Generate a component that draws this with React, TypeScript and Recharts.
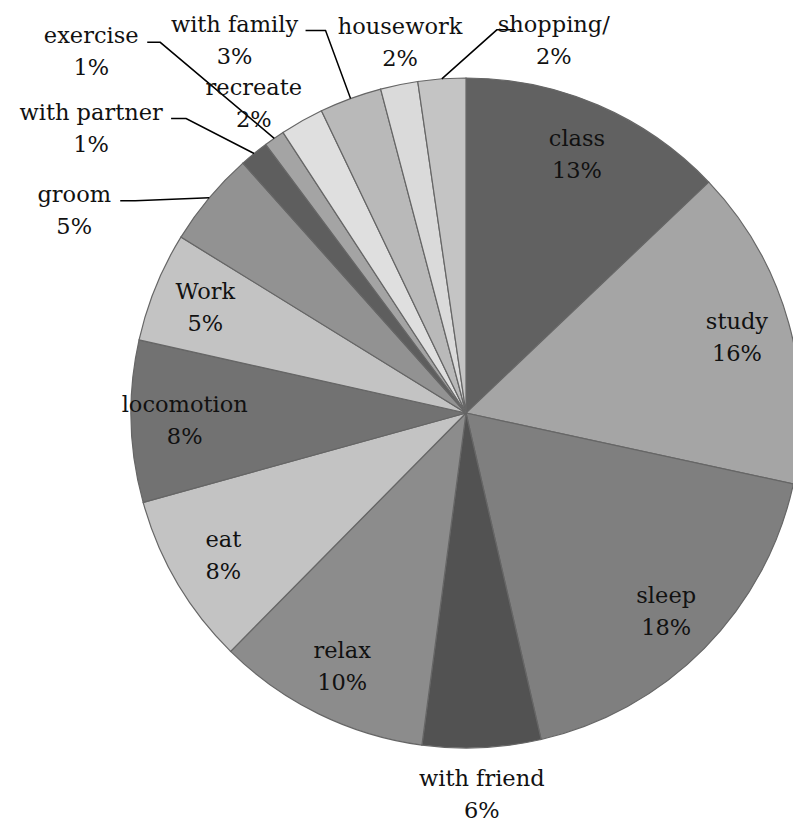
import React from 'react';
import { PieChart, Pie, Cell } from 'recharts';

// Daily activity shares (percent of the day), clockwise from 12 o'clock
const activities = [
  'class',
  'study',
  'sleep',
  'with friend',
  'relax',
  'eat',
  'locomotion',
  'Work',
  'groom',
  'with partner',
  'exercise',
  'recreate',
  'with family',
  'housework',
  'shopping/',
];
const shares = [12.9, 15.5, 18.0, 5.7, 10.3, 8.3, 7.8, 5.3, 4.6, 1.4, 1.0, 2.1, 3.0, 1.8, 2.3];
const shades = [
  '#616161',
  '#a5a5a5',
  '#7f7f7f',
  '#525252',
  '#8c8c8c',
  '#c3c3c3',
  '#727272',
  '#c3c3c3',
  '#929292',
  '#5e5e5e',
  '#a4a4a4',
  '#dfdfdf',
  '#b9b9b9',
  '#dadada',
  '#c4c4c4',
];

const rows = activities.map((name, i) => ({ name, value: shares[i] }));
const total = shares.reduce((a, b) => a + b, 0);

const RAD = Math.PI / 180;
const FONT = '"DejaVu Serif", "Liberation Serif", serif';
const FONT_SIZE = 22.5;
const LINE_GAP = 16;

// Labels that sit outside the pie: text block offset from the slice's outer
// midpoint, and an optional leader line start with a short horizontal elbow.
type Callout = { text: [number, number]; tail?: [number, number]; elbow?: number };
const callouts: Record<string, Callout> = {
  'with friend': { text: [0, 46] },
  groom: { text: [-135, 12], tail: [-89, 3], elbow: 15 },
  'with partner': { text: [-163, -26], tail: [-83, -35], elbow: 15 },
  exercise: { text: [-183, -87], tail: [-127, -96], elbow: 13 },
  recreate: { text: [-48, -18] },
  'with family': { text: [-116, -59], tail: [-45, -68], elbow: 20 },
  housework: { text: [1, -43] },
  'shopping/': { text: [112, -39], tail: [73, -49], elbow: -18 },
};

function SliceLabel(props: any) {
  const { cx, cy, midAngle, outerRadius, index } = props;
  const name = activities[index];
  const pct = `${Math.round((shares[index] / total) * 100)}%`;
  const cos = Math.cos(-midAngle * RAD);
  const sin = Math.sin(-midAngle * RAD);
  const spot = callouts[name];
  let x: number;
  let y: number;
  let leader: React.ReactNode = null;
  if (!spot) {
    const r = outerRadius * 0.84;
    x = cx + r * cos;
    y = cy + r * sin;
  } else {
    const ex = cx + outerRadius * cos;
    const ey = cy + outerRadius * sin;
    x = ex + spot.text[0];
    y = ey + spot.text[1];
    if (spot.tail) {
      const sx = ex + spot.tail[0];
      const sy = ey + spot.tail[1];
      const kx = sx + (spot.elbow ?? 0);
      leader = (
        <polyline
          points={`${sx},${sy} ${kx},${sy} ${ex},${ey}`}
          fill="none"
          stroke="#000"
          strokeWidth={1.5}
        />
      );
    }
  }
  return (
    <g>
      {leader}
      <text
        x={x}
        y={y - LINE_GAP}
        textAnchor="middle"
        dominantBaseline="central"
        fontFamily={FONT}
        fontSize={FONT_SIZE}
        fill="#111"
      >
        {name}
      </text>
      <text
        x={x}
        y={y + LINE_GAP}
        textAnchor="middle"
        dominantBaseline="central"
        fontFamily={FONT}
        fontSize={FONT_SIZE}
        fill="#111"
      >
        {pct}
      </text>
    </g>
  );
}

export default function App() {
  return (
    <div style={{ position: 'absolute', left: 0, top: 0, width: 793, height: 825, background: '#fff' }}>
      <PieChart width={793} height={825} margin={{ top: 0, right: 0, bottom: 0, left: 0 }}>
        <Pie
          data={rows}
          dataKey="value"
          nameKey="name"
          cx={466}
          cy={413}
          outerRadius={335}
          startAngle={90}
          endAngle={-270}
          stroke="#666"
          strokeWidth={1.2}
          label={SliceLabel}
          labelLine={false}
          isAnimationActive={false}
        >
          {rows.map((r, i) => (
            <Cell key={r.name} fill={shades[i]} />
          ))}
        </Pie>
      </PieChart>
    </div>
  );
}
